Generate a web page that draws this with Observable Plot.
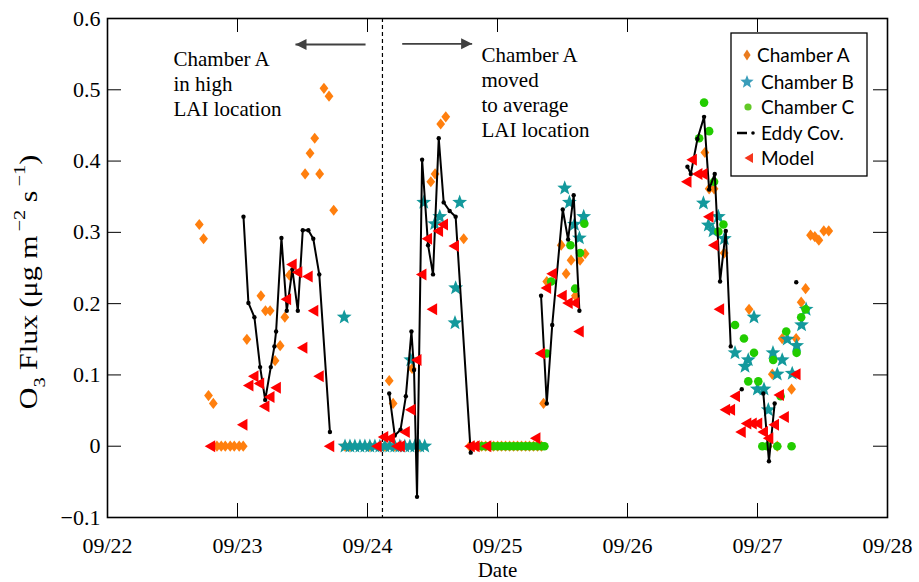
<!DOCTYPE html>
<html><head><meta charset="utf-8">
<script src="https://cdn.jsdelivr.net/npm/d3@7"></script>
<script src="https://cdn.jsdelivr.net/npm/@observablehq/plot@0.6"></script>
<style>html,body{margin:0;padding:0;background:#fff;}</style>
</head><body><div id="chart"></div>
<script>
// ---- data (x = day of September 2011, y = O3 flux) ----
const xTicks = [22, 23, 24, 25, 26, 27, 28];
const xTickLabels = ["09/22", "09/23", "09/24", "09/25", "09/26", "09/27", "09/28"];
const yTicks = [-0.1, 0, 0.1, 0.2, 0.3, 0.4, 0.5, 0.6];
const yTickLabels = ["\u22120.1", "0", "0.1", "0.2", "0.3", "0.4", "0.5", "0.6"];
const seriesNames = ["Chamber A", "Chamber B", "Chamber C", "Eddy Cov.", "Model"];

const chamberA = [
  [22.706,0.311],[22.739,0.291],[22.777,0.071],[22.814,0.060],
  [22.842,0],[22.875,0],[22.906,0],[22.944,0],[22.975,0],[23.013,0],[23.044,0],
  [23.072,0.150],[23.180,0.211],[23.215,0.190],[23.251,0.190],[23.289,0.120],[23.328,0.141],[23.364,0.181],[23.399,0.240],
  [23.520,0.382],[23.558,0.411],[23.594,0.432],[23.632,0.382],[23.665,0.502],[23.704,0.491],[23.740,0.331],
  [23.827,0],[23.865,0],[24.018,0],[24.134,0],[24.210,0],[24.402,0],
  [24.167,0.092],[24.197,0.060],[24.343,0.109],[24.487,0.371],[24.520,0.382],[24.563,0.452],[24.602,0.462],[24.740,0.291],
  [24.786,0],[24.817,0],[24.847,0],[24.878,0],[24.909,0],[24.939,0],[24.970,0],[25.001,0],[25.031,0],[25.062,0],
  [25.093,0],[25.124,0],[25.154,0],[25.185,0],[25.216,0],[25.246,0],[25.277,0],[25.308,0],[25.338,0],
  [25.354,0.060],[25.379,0.231],[25.490,0.282],[25.528,0.242],[25.566,0.261],[25.599,0.211],[25.635,0.261],[25.674,0.270],
  [26.595,0.412],[26.628,0.361],[26.666,0.361],[26.743,0.271],[26.935,0.192],[27.082,0],[27.114,0.101],[27.152,0],
  [27.190,0.151],[27.262,0.080],[27.297,0.151],[27.336,0.202],[27.370,0.221],
  [27.408,0.296],[27.441,0.294],[27.472,0.289],[27.510,0.302],[27.548,0.302]
];

const chamberB = [
  [23.821,0.181],
  [23.827,0],[23.865,0],[23.903,0],[23.942,0],[23.980,0],[24.018,0],[24.057,0],[24.095,0],[24.134,0],
  [24.172,0],[24.210,0],[24.249,0],[24.287,0],[24.326,0],[24.364,0],[24.402,0],[24.440,0],
  [24.333,0.121],[24.433,0.342],[24.517,0.312],[24.556,0.322],[24.673,0.173],[24.678,0.222],[24.709,0.342],
  [25.517,0.362],[25.553,0.342],[25.592,0.311],[25.630,0.292],[25.663,0.322],
  [26.584,0.341],[26.622,0.310],[26.658,0.302],[26.699,0.322],[26.745,0.291],[26.827,0.131],[26.904,0.112],
  [26.929,0.121],[26.973,0.181],[26.999,0.080],[27.050,0.080],[27.083,0.051],[27.119,0.131],[27.152,0.101],
  [27.190,0.121],[27.229,0.150],[27.267,0.102],[27.301,0.141],[27.339,0.170],[27.374,0.192]
];

const chamberC = [
  [24.878,0],[24.909,0],[24.939,0],[24.970,0],[25.001,0],[25.031,0],[25.062,0],[25.093,0],[25.124,0],
  [25.154,0],[25.185,0],[25.216,0],[25.246,0],[25.277,0],[25.308,0],[25.338,0],[25.361,0],
  [25.379,0.130],[25.413,0.231],[25.561,0.282],[25.597,0.221],[25.635,0.271],[25.668,0.312],
  [26.551,0.432],[26.589,0.482],[26.628,0.442],[26.666,0.371],[26.699,0.301],[26.738,0.311],[26.827,0.170],
  [26.896,0.151],[26.929,0.091],[26.973,0.131],[27.006,0.091],[27.037,0],[27.075,0],[27.121,0.121],[27.152,0],
  [27.178,0.070],[27.221,0.161],[27.262,0],[27.301,0.131],[27.336,0.181],[27.370,0.192]
];

const eddySegments = [
  [[23.046,0.322],[23.084,0.201],[23.130,0.181],[23.174,0.111],[23.213,0.065],[23.256,0.111],[23.284,0.140],[23.297,0.161],
   [23.338,0.292],[23.379,0.190],[23.422,0.248],[23.464,0.190],[23.502,0.303],[23.545,0.303],[23.583,0.291],[23.629,0.241],[23.711,0.020]],
  [[24.167,0.074],[24.210,0.015],[24.254,0.023],[24.295,0.070],[24.338,0.161],[24.358,0.107],[24.381,-0.071],[24.420,0.402],
   [24.466,0.282],[24.504,0.241],[24.548,0.432],[24.586,0.342],[24.632,0.330],[24.678,0.322],[24.794,-0.009]],
  [[25.335,0.211],[25.379,0.060],[25.421,0.170],[25.502,0.332],[25.543,0.290],[25.586,0.352],[25.630,0.190]],
  [[26.461,0.392],[26.487,0.382],[26.538,0.431],[26.589,0.462],[26.628,0.360],[26.671,0.382],[26.712,0.231],[26.756,0.302],[26.794,0.140]],
  [[26.879,0.080]],
  [[27.045,0.074],[27.088,-0.021],[27.132,0.060]],
  [[27.298,0.230]]
];

const model = [
  [22.790,0],[23.038,0.030],[23.084,0.085],[23.123,0.098],[23.167,0.088],[23.207,0.056],[23.246,0.069],[23.295,0.082],
  [23.374,0.206],[23.417,0.255],[23.460,0.244],[23.499,0.138],[23.540,0.238],[23.583,0.190],[23.625,0.098],[23.706,0],
  [24.070,0],[24.121,0.013],[24.172,0.011],[24.223,0],[24.249,0],[24.287,0.020],[24.331,0.051],[24.377,0.121],
  [24.415,0.241],[24.458,0.291],[24.497,0.192],[24.543,0.302],[24.581,0.311],[24.665,0.281],
  [24.786,0],[24.824,0],[24.914,0],[25.292,0.011],
  [25.328,0.130],[25.374,0.222],[25.418,0.242],[25.494,0.211],[25.540,0.201],[25.592,0.201],[25.625,0.161],
  [26.454,0.371],[26.495,0.402],[26.538,0.382],[26.577,0.382],[26.623,0.322],[26.661,0.282],[26.705,0.192],
  [26.751,0.051],[26.789,0.051],[26.827,0.070],[26.871,0.020],[26.914,0.032],[26.956,0.032],[26.998,0.032],
  [27.042,0.020],[27.083,0.011],[27.127,0.030],[27.165,0.072],[27.203,0.041],[27.293,0.101]
];

const chamberMoveDay = 24.115;
const annotations = [
  {day: 22.508, flux: 0.5578, text: "Chamber A\nin high\nLAI location"},
  {day: 24.877, flux: 0.5635, text: "Chamber A\nmoved\nto average\nLAI location"}
];
const arrows = [
  {from: 23.985, to: 23.446, flux: 0.5635},
  {from: 24.267, to: 24.805, flux: 0.5645}
];

// ---- styles ----
const serif = "'Liberation Serif', 'DejaVu Serif', serif";
const cA = "#FF7F0E", cB = "#13999C", cC = "#22CC00", cM = "#FF0000";

const diamondTall = {draw(c){ c.moveTo(0,-5.6); c.lineTo(4.4,0); c.lineTo(0,5.6); c.lineTo(-4.4,0); c.closePath(); }};
function starSym(R, r){ return {draw(c){ for(let i=0;i<10;i++){ const a=-Math.PI/2+i*Math.PI/5, rr=i%2?r:R; const x=rr*Math.cos(a), y=rr*Math.sin(a); if(i) c.lineTo(x,y); else c.moveTo(x,y);} c.closePath(); }}; }
const star5 = starSym(7.8, 3.3);
const triLeft = {draw(c){ c.moveTo(-5.5,0); c.lineTo(5,-6); c.lineTo(5,6); c.closePath(); }};
const arrowHead = {draw(c){ c.moveTo(0,0); c.lineTo(11,-5.5); c.lineTo(11,5.5); c.closePath(); }};

const eddy = eddySegments.flatMap((seg,k) => seg.map(([t,v]) => ({t, v, seg:k})));
const W = 919, H = 582, mL = 107, mR = 32, mT = 18, mB = 65;
const innerW = W - mL - mR, innerH = H - mT - mB, tickLen = 14;

const svg = Plot.plot({
  width: W, height: H,
  marginLeft: mL, marginRight: mR, marginTop: mT, marginBottom: mB,
  style: {fontFamily: serif, fontSize: "21px", background: "white", color: "black", overflow: "visible"},
  x: {domain: [22, 28], axis: null},
  y: {domain: [-0.1, 0.6], axis: null},
  marks: [
    Plot.axisX(xTicks, {anchor: "bottom", tickSize: 0, tickPadding: 20, tickFormat: d => xTickLabels[xTicks.indexOf(d)], fontSize: 22, fontFamily: serif, label: null}),
    Plot.axisY(yTicks, {anchor: "left", tickSize: 0, tickPadding: 7, tickFormat: d => yTickLabels[yTicks.indexOf(d)], fontSize: 22, fontFamily: serif, label: null}),
    Plot.text(["Date"], {frameAnchor: "bottom", lineAnchor: "middle", dy: 53, fontSize: 21, fontFamily: serif}),
    Plot.tickX(xTicks, {x: d => d, stroke: "black", insetTop: innerH - tickLen}),
    Plot.tickX(xTicks, {x: d => d, stroke: "black", insetBottom: innerH - tickLen}),
    Plot.tickY(yTicks, {y: d => d, stroke: "black", insetRight: innerW - tickLen}),
    Plot.tickY(yTicks, {y: d => d, stroke: "black", insetLeft: innerW - tickLen}),
    Plot.ruleX([chamberMoveDay], {x: d => d, stroke: "black", strokeWidth: 1.2, strokeDasharray: "4,3"}),
    Plot.link(arrows, {x1: "from", x2: "to", y1: "flux", y2: "flux", stroke: "#404040", strokeWidth: 1.8}),
    Plot.dot(arrows, {x: "to", y: "flux", symbol: arrowHead, rotate: d => d.to < d.from ? 0 : 180, fill: "#404040", stroke: "none"}),
    Plot.text(annotations, {x: "day", y: "flux", text: "text", textAnchor: "start", lineAnchor: "top", lineHeight: 1.19, fontSize: 21, fontFamily: serif}),
    Plot.dot(chamberA, {x: d => d[0], y: d => d[1], symbol: diamondTall, fill: cA, stroke: "none"}),
    Plot.dot(chamberB, {x: d => d[0], y: d => d[1], symbol: star5, fill: cB, stroke: "none"}),
    Plot.dot(chamberC, {x: d => d[0], y: d => d[1], r: 4.3, fill: cC, stroke: "none"}),
    Plot.line(eddy, {x: "t", y: "v", z: "seg", stroke: "black", strokeWidth: 2}),
    Plot.dot(eddy, {x: "t", y: "v", r: 2.2, fill: "black", stroke: "none"}),
    Plot.dot(model, {x: d => d[0], y: d => d[1], symbol: triLeft, fill: cM, stroke: "none"}),
    Plot.frame({stroke: "black", strokeWidth: 1.6})
  ]
});

// y-axis label with sub/superscripts
const s = d3.select(svg);
const lab = s.append("text").attr("transform", "translate(37,282) rotate(-90) scale(1.2,1)")
  .attr("text-anchor", "middle").style("font-family", serif).style("font-size", "25px").attr("fill", "black");
lab.append("tspan").text("O");
lab.append("tspan").attr("dy", 8).style("font-size", "17px").text("3");
lab.append("tspan").attr("dy", -8).text(" Flux (\u03bcg m");
lab.append("tspan").attr("dy", -12).style("font-size", "17px").text("\u2009\u22122");
lab.append("tspan").attr("dy", 12).text(" s");
lab.append("tspan").attr("dy", -12).style("font-size", "17px").text("\u2009\u22121");
lab.append("tspan").attr("dy", 12).text(")");

// legend
const lg = s.append("g").style("font-family", "Lato, 'Open Sans', sans-serif").style("font-size", "19px");
lg.append("rect").attr("x", 731).attr("y", 33).attr("width", 136).attr("height", 143)
  .attr("fill", "white").attr("stroke", "black").attr("stroke-width", 1.3);
function symPath(sym){ const p = d3.path(); sym.draw(p); return p.toString(); }
const legendSyms = [
  {sym: {draw(c){ c.moveTo(0,-5.5); c.lineTo(3.6,0); c.lineTo(0,5.5); c.lineTo(-3.6,0); c.closePath(); }}, color: "#E97B1E", mx: 747, tx: 757},
  {sym: starSym(7, 3), color: "#3A9DBA", mx: 747, tx: 761},
  {sym: {draw(c){ c.arc(0,0,3.6,0,2*Math.PI); }}, color: "#62C926", mx: 748, tx: 761},
  {sym: null, color: "black", mx: 746, tx: 761},
  {sym: {draw(c){ c.moveTo(-4.5,0); c.lineTo(4,-5); c.lineTo(4,5); c.closePath(); }}, color: "#F5351D", mx: 749, tx: 761}
];
const legendY = [55, 82, 107, 133, 158];
seriesNames.forEach((name, i) => {
  const e = legendSyms[i], y = legendY[i];
  if (e.sym) {
    lg.append("path").attr("d", symPath(e.sym)).attr("transform", `translate(${e.mx},${y})`).attr("fill", e.color);
  } else {
    lg.append("line").attr("x1", 737).attr("x2", 747).attr("y1", y).attr("y2", y).attr("stroke", "black").attr("stroke-width", 2.5);
    lg.append("circle").attr("cx", 753).attr("cy", y).attr("r", 1.8).attr("fill", "black");
  }
  lg.append("text").attr("x", e.tx).attr("y", y).attr("dy", "0.36em").attr("text-anchor", "start").attr("fill", "black").text(name);
});

document.getElementById("chart").appendChild(svg);
</script>
</body></html>
